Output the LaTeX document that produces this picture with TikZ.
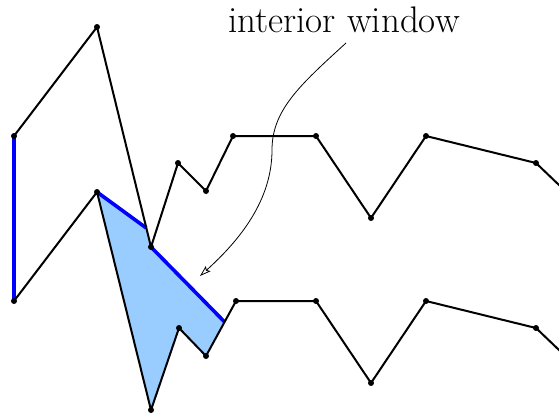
\documentclass[tikz,border=0pt]{standalone}
\usetikzlibrary{arrows.meta}
\definecolor{winfill}{RGB}{153,204,255}
\begin{document}
\begin{tikzpicture}[x=1pt,y=-1pt,
  edge/.style={line width=2pt,line join=round,line cap=round},
  winedge/.style={line width=3.6pt,blue},
  dot/.style={circle,fill=black,inner sep=0pt,minimum size=6pt},
  lbl/.style={font=\fontsize{37}{44}\selectfont,anchor=base,inner sep=0pt},
  callout/.style={line width=0.8pt,-{Stealth[open,length=11pt,width=7pt,inset=2pt]}}]
\useasboundingbox (0,0) rectangle (559,416);
\clip (0,0) rectangle (559,416);
% top chain
\coordinate (a0) at (14,136);
\coordinate (a1) at (97,27);
\coordinate (a2) at (151,247);
\coordinate (a3) at (178,163);
\coordinate (a4) at (206,191);
\coordinate (a5) at (233,136);
\coordinate (a6) at (316,136);
\coordinate (a7) at (371,218);
\coordinate (a8) at (426,136);
\coordinate (a9) at (536,163);
\coordinate (a10) at (582,207);
% bottom chain
\coordinate (b0) at (14,301);
\coordinate (b1) at (97,192);
\coordinate (b2) at (151,410);
\coordinate (b3) at (179,328);
\coordinate (b4) at (206,356);
\coordinate (b5) at (236,301);
\coordinate (b6) at (316,301);
\coordinate (b7) at (371,383);
\coordinate (b8) at (426,301);
\coordinate (b9) at (536,328);
\coordinate (b10) at (582,372);
% window points
\coordinate (w1) at (intersection of a1--a2 and b1--{(160,238)});
\coordinate (w2) at (intersection of b1--a2 and b4--b5);
% fill
\fill[winfill] (b1) -- (w1) -- (a2) -- (w2) -- (b4) -- (b3) -- (b2) -- cycle;
% blue edges
\draw[winedge] (a0) -- (b0);
\draw[winedge] (b1) -- (w1);
\draw[winedge] (a2) -- (w2);
% black chains
\draw[edge] (a0) -- (a1) -- (a2) -- (a3) -- (a4) -- (a5) -- (a6) -- (a7) -- (a8) -- (a9) -- (a10);
\draw[edge] (b0) -- (b1) -- (b2) -- (b3) -- (b4) -- (b5) -- (b6) -- (b7) -- (b8) -- (b9) -- (b10);
% dots
\foreach \p in {a0,a1,a2,a3,a4,a5,a6,a7,a8,a9,b0,b1,b2,b3,b4,b5,b6,b7,b8,b9}
  \node[dot] at (\p) {};
% label and callout
\node[lbl] (label) at (344,32) {interior window};
\coordinate (cstart) at (346,43);
\coordinate (ctip) at (200,276);
\draw[callout] (cstart) .. controls (300,85) and (272,110) .. (272,150)
  .. controls (272,200) and (240,240) .. (ctip);
\end{tikzpicture}
\end{document}
